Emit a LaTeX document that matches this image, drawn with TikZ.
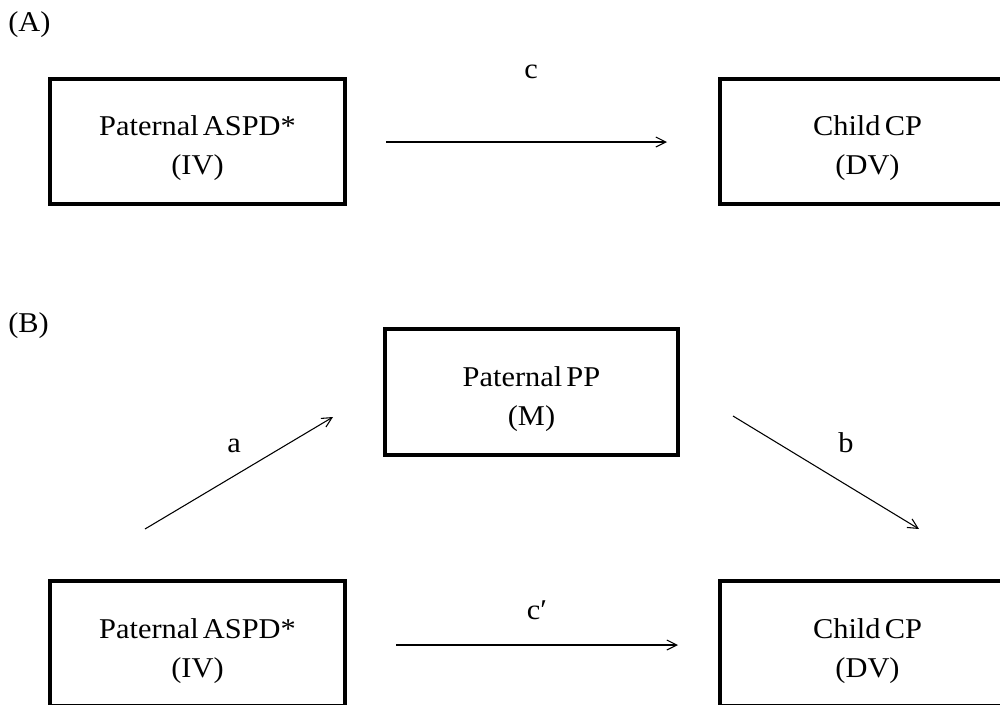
\documentclass[tikz,border=0pt]{standalone}
\usepackage{fontspec}
\setmainfont{Liberation Serif}[WordSpace=0.55]
\usetikzlibrary{arrows.meta}
\newcommand{\wt}[1]{\scalebox{1.06}[1]{#1}}
\tikzset{
  box/.style={draw, line width=2.3pt, minimum width=295*0.75pt, minimum height=125*0.75pt, inner sep=0pt},
  txt/.style={align=center, inner sep=0pt, font=\fontsize{21.5pt}{29.25pt}\selectfont},
  lbl/.style={inner sep=0pt, anchor=base, font=\fontsize{21.5pt}{29.25pt}\selectfont},
  conn/.style={line width=0.8pt, -{Straight Barb[length=7.5pt, width=7.5pt, line width=0.8pt]}}
}
\begin{document}
\begin{tikzpicture}[x=0.75pt, y=-0.75pt]
\useasboundingbox (0,0) rectangle (1000,704);
\clip (0,0) rectangle (1000,704);
% panel labels
\node[lbl, anchor=base west] (pA) at (8,31) {\wt{(A)}};
\node[lbl, anchor=base west] (pB) at (8,332) {\wt{(B)}};
% panel A
\node[box] (ivA) at (197.5,141.5) {};
\node[txt] (ivAt) at (197.5,148) {\wt{Paternal ASPD*}\\\wt{(IV)}};
\node[box] (dvA) at (867.5,141.5) {};
\node[txt] (dvAt) at (867.5,148) {\wt{Child CP}\\\wt{(DV)}};
\coordinate (cS) at (386,142);
\coordinate (cE) at (667,142);
\draw[conn] (cS) -- (cE);
\node[lbl] (cl) at (531,78) {\wt{c}};
% panel B
\node[box, minimum width=293*0.75pt, minimum height=126*0.75pt] (mB) at (531.5,392) {};
\node[txt] (mBt) at (531.5,399) {\wt{Paternal PP}\\\wt{(M)}};
\node[box] (ivB) at (197.5,643.5) {};
\node[txt] (ivBt) at (197.5,651.5) {\wt{Paternal ASPD*}\\\wt{(IV)}};
\node[box] (dvB) at (867.5,643.5) {};
\node[txt] (dvBt) at (867.5,651.5) {\wt{Child CP}\\\wt{(DV)}};
\coordinate (aS) at (145,529);
\coordinate (aE) at (333,417);
\draw[conn] (aS) -- (aE);
\coordinate (bS) at (733,416);
\coordinate (bE) at (919,529);
\draw[conn] (bS) -- (bE);
\coordinate (cpS) at (396,645);
\coordinate (cpE) at (678,645);
\draw[conn] (cpS) -- (cpE);
\node[lbl] (al) at (234,452) {\wt{a}};
\node[lbl] (bl) at (846,452) {\wt{b}};
\node[lbl] (cpl) at (537,619) {\wt{c′}};
\end{tikzpicture}
\end{document}
